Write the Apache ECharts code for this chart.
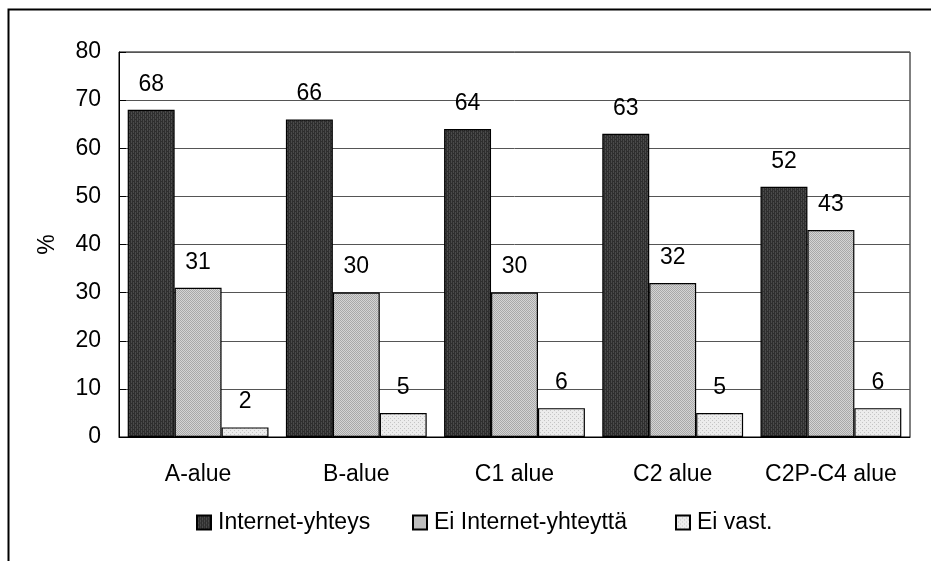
<!DOCTYPE html>
<html>
<head>
<meta charset="utf-8">
<script src="https://cdn.jsdelivr.net/npm/echarts@6/dist/echarts.min.js"></script>
<style>
html,body{margin:0;padding:0;background:#fff;}
#chart{width:931px;height:561px;}
</style>
</head>
<body>
<div id="chart"></div>
<script>
const categories = ['A-alue', 'B-alue', 'C1 alue', 'C2 alue', 'C2P-C4 alue'];
const seriesNames = ['Internet-yhteys', 'Ei Internet-yhteyttä', 'Ei vast.'];
const internetYhteys = [68, 66, 64, 63, 52];
const eiInternetYhteytta = [31, 30, 30, 32, 43];
const eiVastausta = [2, 5, 6, 5, 6];
const yTicks = [0, 10, 20, 30, 40, 50, 60, 70, 80];

// Small tiled textures for the bar fills
function makePattern(base, ink, kind) {
  const c = document.createElement('canvas');
  c.width = 4; c.height = 4;
  const g = c.getContext('2d');
  g.fillStyle = base; g.fillRect(0, 0, 4, 4);
  g.fillStyle = ink;
  if (kind === 'vertical') {
    g.fillRect(0, 0, 1, 4); g.fillRect(2, 0, 1, 4);
    g.fillRect(1, 1, 1, 1); g.fillRect(3, 3, 1, 1);
  } else if (kind === 'checker') {
    g.fillRect(0, 0, 1, 1); g.fillRect(2, 0, 1, 1);
    g.fillRect(1, 1, 1, 1); g.fillRect(3, 1, 1, 1);
    g.fillRect(0, 2, 1, 1); g.fillRect(2, 2, 1, 1);
    g.fillRect(1, 3, 1, 1); g.fillRect(3, 3, 1, 1);
  } else {
    g.fillRect(0, 0, 1, 1); g.fillRect(2, 2, 1, 1);
  }
  return { image: c, repeat: 'repeat' };
}
const fills = [
  makePattern('#4a4a4a', '#2e2e2e', 'vertical'),
  makePattern('#d4d4d4', '#a8a8a8', 'checker'),
  makePattern('#ececec', '#c4c4c4', 'dots')
];

const font = '"Liberation Sans", Arial, sans-serif';
const fontSize = 23;
const dataSets = [internetYhteys, eiInternetYhteytta, eiVastausta];
// left edge of each legend entry
const legendLefts = [196, 412, 675];

const chart = echarts.init(document.getElementById('chart'), null, { renderer: 'canvas' });
chart.setOption({
  animation: false,
  backgroundColor: '#ffffff',
  textStyle: { fontFamily: font },
  graphic: [{
    type: 'rect',
    left: 6, top: 7,
    shape: { width: 1000, height: 1000 },
    style: { fill: 'none', stroke: '#000', lineWidth: 2 },
    silent: true
  }],
  grid: {
    left: 119, right: 21, top: 52, bottom: 124,
    show: true, borderColor: '#000', borderWidth: 1, backgroundColor: 'transparent'
  },
  legend: seriesNames.map((n, i) => ({
    top: 511, left: legendLefts[i], padding: 0,
    itemWidth: 14, itemHeight: 14,
    textStyle: { fontFamily: font, fontSize: fontSize, color: '#000', padding: [0, 0, 0, 2] },
    data: [{ name: n, icon: 'rect' }]
  })),
  xAxis: {
    type: 'category',
    data: categories,
    axisLine: { show: true, lineStyle: { color: '#000', width: 1 } },
    axisTick: { show: false },
    axisLabel: { color: '#000', fontSize: fontSize, margin: 26, fontFamily: font, interval: 0 }
  },
  yAxis: {
    type: 'value',
    min: yTicks[0], max: yTicks[yTicks.length - 1], interval: 10,
    name: '%',
    nameLocation: 'middle',
    nameGap: 60,
    nameRotate: 90,
    nameTextStyle: { color: '#000', fontSize: fontSize, fontFamily: font },
    axisLine: { show: true, lineStyle: { color: '#000', width: 1 } },
    axisTick: { show: true, inside: true, length: 7, lineStyle: { color: '#000' } },
    axisLabel: { color: '#000', fontSize: fontSize, margin: 18, fontFamily: font },
    splitLine: { show: true, lineStyle: { color: '#555', width: 1 } }
  },
  series: dataSets.map((d, i) => ({
    name: seriesNames[i],
    type: 'bar',
    data: d,
    barGap: '0%',
    barCategoryGap: '11%',
    itemStyle: { color: fills[i], borderColor: '#000', borderWidth: 1.2 },
    label: {
      show: true, position: 'top', distance: 14,
      color: '#000', fontSize: fontSize, fontFamily: font
    }
  }))
});
</script>
</body>
</html>
